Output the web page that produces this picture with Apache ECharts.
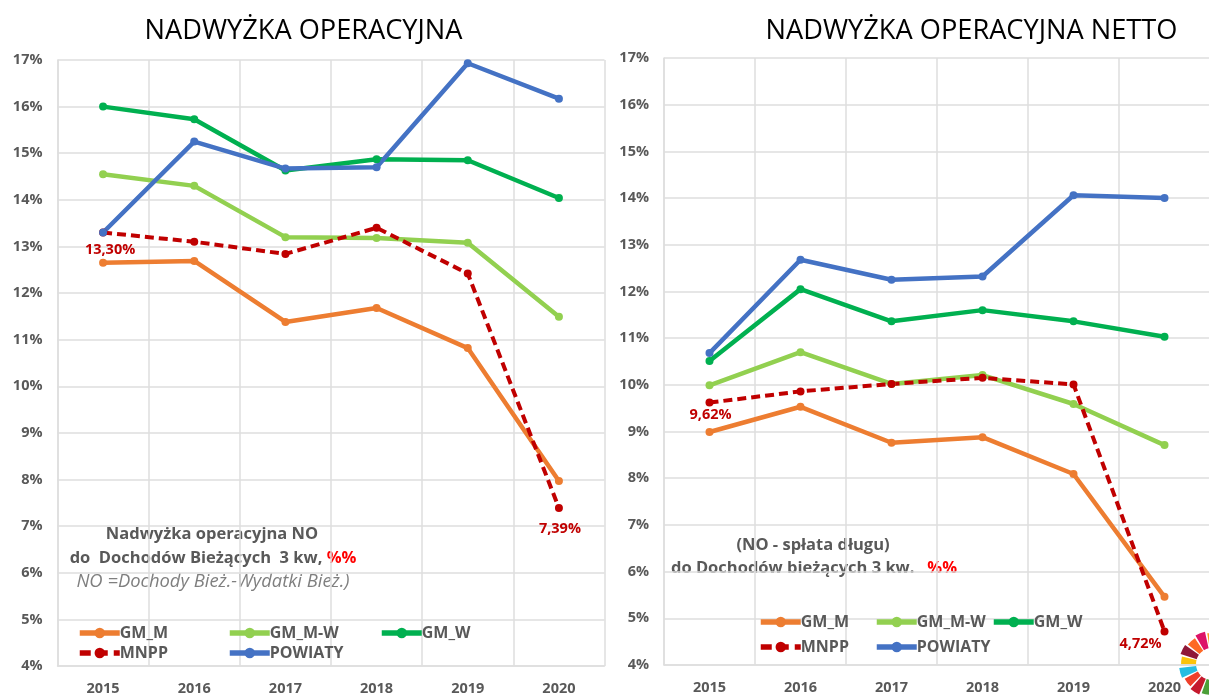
<!DOCTYPE html>
<html lang="pl">
<head>
<meta charset="utf-8">
<title>Nadwyżka operacyjna</title>
<script src="https://cdn.jsdelivr.net/npm/echarts@6/dist/echarts.min.js"></script>
<style>
    html, body { margin: 0; padding: 0; background: #fff; }
    #chart { width: 1209px; height: 695px; }
</style>
</head>
<body>
<div id="chart"></div>
<script>
const years = ['2015', '2016', '2017', '2018', '2019', '2020'];

// lewy wykres - nadwyżka operacyjna
const leftGmM = [12.65, 12.69, 11.38, 11.68, 10.82, 7.97];
const leftGmMW = [14.55, 14.30, 13.20, 13.18, 13.08, 11.49];
const leftGmW = [16.00, 15.73, 14.63, 14.87, 14.85, 14.04];
const leftMnpp = [13.30, 13.10, 12.84, 13.40, 12.42, 7.39];
const leftPowiaty = [13.30, 15.25, 14.67, 14.70, 16.93, 16.17];

// prawy wykres - nadwyżka operacyjna netto
const rightGmM = [8.99, 9.53, 8.76, 8.88, 8.09, 5.46];
const rightGmMW = [9.99, 10.70, 10.02, 10.21, 9.59, 8.71];
const rightGmW = [10.51, 12.05, 11.36, 11.60, 11.36, 11.03];
const rightMnpp = [9.62, 9.86, 10.02, 10.15, 10.01, 4.72];
const rightPowiaty = [10.68, 12.68, 12.25, 12.32, 14.06, 14.00];

const seriesNames = ['GM_M', 'GM_M-W', 'GM_W', 'MNPP', 'POWIATY'];
const seriesColors = ['#ed7d31', '#92d050', '#00b050', '#c00000', '#4472c4'];

// kolory płatków logo w prawym dolnym rogu
const wheelColors = ['#4c9f38', '#c5192d', '#ef402b', '#26bde2', '#fcc30b', '#8f1838', '#fd6925', '#dd1367', '#fd9d24'];

const fontName = '"Open Sans", "Noto Sans", sans-serif';
const grayText = '#595959';
const gridColor = '#dedede';

function pointLabels(values, labels) {
    // podpisy tylko przy wybranych punktach
    return values.map(function (value, index) {
        let item = { value: value };
        if (labels[index]) {
            item.label = {
                show: true,
                formatter: value.toFixed(2).replace('.', ',') + '%',
                position: 'bottom',
                offset: labels[index],
                color: '#c00000',
                fontFamily: fontName,
                fontWeight: 'bold',
                fontSize: 14.5
            };
        }
        return item;
    });
}

function lineSeries(index, gridIndex, data) {
    return {
        name: seriesNames[index],
        type: 'line',
        xAxisIndex: gridIndex,
        yAxisIndex: gridIndex,
        data: data,
        symbol: 'circle',
        symbolSize: 8,
        showSymbol: true,
        animation: false,
        itemStyle: { color: seriesColors[index] },
        lineStyle: {
            color: seriesColors[index],
            width: seriesNames[index] === 'MNPP' ? 4 : 4.5,
            type: seriesNames[index] === 'MNPP' ? [9, 5] : 'solid'
        }
    };
}

function xAxisFor(gridIndex) {
    return {
        type: 'category',
        gridIndex: gridIndex,
        data: years,
        boundaryGap: true,
        axisTick: { show: false },
        axisLine: { lineStyle: { color: gridColor, width: 1.5 } },
        axisLabel: {
            color: grayText,
            fontFamily: fontName,
            fontWeight: 'bold',
            fontSize: 14.5,
            margin: 15
        },
        splitLine: { show: true, lineStyle: { color: gridColor, width: 1.5 } }
    };
}

function yAxisFor(gridIndex) {
    return {
        type: 'value',
        gridIndex: gridIndex,
        min: 4,
        max: 17,
        interval: 1,
        axisTick: { show: false },
        axisLine: { show: true, lineStyle: { color: gridColor, width: 1.5 } },
        axisLabel: {
            color: grayText,
            fontFamily: fontName,
            fontWeight: 'bold',
            fontSize: 14.5,
            margin: 15,
            formatter: '{value}%'
        },
        splitLine: { show: true, lineStyle: { color: gridColor, width: 1.5 } }
    };
}

function legendItem(name, left, top) {
    return {
        data: [name],
        left: left,
        top: top,
        padding: 0,
        itemWidth: 40,
        itemHeight: 13,
        itemGap: 0,
        selectedMode: false,
        lineStyle: { width: 5.5, type: name === 'MNPP' ? [11, 6] : 'solid' },
        textStyle: {
            color: grayText,
            fontFamily: fontName,
            fontWeight: 'bold',
            fontSize: 16,
            padding: [0, 0, 0, -5]
        }
    };
}

function noteText(x, y, text, rich, extra) {
    return {
        type: 'text',
        x: x,
        y: y,
        style: Object.assign({
            text: text,
            align: 'center',
            verticalAlign: 'middle',
            fill: grayText,
            fontFamily: fontName,
            fontWeight: 'bold',
            fontSize: 16.5,
            rich: rich
        }, extra || {})
    };
}

function wheelSectors() {
    // fragment koła SDG przycięty przez krawędź strony
    return wheelColors.map(function (color, index) {
        let start = Math.PI * (0.5 + index * 2 / 17);
        return {
            type: 'sector',
            silent: true,
            shape: {
                cx: 1212,
                cy: 664,
                r0: 16,
                r: index % 2 ? 33 : 31,
                startAngle: start + 0.03,
                endAngle: start + Math.PI * 2 / 17 - 0.03
            },
            style: { fill: color }
        };
    });
}

const redRich = { red: { fill: '#ff0000', fontFamily: fontName, fontWeight: 'bold', fontSize: 16.5 } };

let option = {
    backgroundColor: '#fff',
    title: [
        {
            text: 'NADWYŻKA OPERACYJNA',
            left: 298.5,
            top: 13,
            textAlign: 'center',
            textStyle: { color: '#000', fontFamily: fontName, fontWeight: 'normal', fontSize: 27.2 }
        },
        {
            text: 'NADWYŻKA OPERACYJNA NETTO',
            left: 966.5,
            top: 13,
            textAlign: 'center',
            textStyle: { color: '#000', fontFamily: fontName, fontWeight: 'normal', fontSize: 27.2 }
        }
    ],
    grid: [
        { left: 57.5, top: 60, width: 547, height: 606, outerBoundsMode: 'none' },
        { left: 664, top: 58, width: 546, height: 607, outerBoundsMode: 'none' }
    ],
    xAxis: [xAxisFor(0), xAxisFor(1)],
    yAxis: [yAxisFor(0), yAxisFor(1)],
    legend: [
        legendItem('GM_M', 77, 625),
        legendItem('GM_M-W', 227, 625),
        legendItem('GM_W', 379, 625),
        legendItem('MNPP', 77, 645),
        legendItem('POWIATY', 227, 645),
        legendItem('GM_M', 758, 614),
        legendItem('GM_M-W', 874, 614),
        legendItem('GM_W', 991, 614),
        legendItem('MNPP', 758, 639),
        legendItem('POWIATY', 874, 639)
    ],
    series: [
        lineSeries(0, 0, leftGmM),
        lineSeries(1, 0, leftGmMW),
        lineSeries(2, 0, leftGmW),
        lineSeries(3, 0, pointLabels(leftMnpp, [[7, 1], null, null, null, null, [1, 4]])),
        lineSeries(4, 0, leftPowiaty),
        lineSeries(0, 1, rightGmM),
        lineSeries(1, 1, rightGmMW),
        lineSeries(2, 1, rightGmW),
        lineSeries(3, 1, pointLabels(rightMnpp, [[1, -4], null, null, null, null, [-24, -4]])),
        lineSeries(4, 1, rightPowiaty)
    ],
    graphic: {
        elements: [
            noteText(212, 534, 'Nadwyżka operacyjna NO', redRich),
            noteText(213, 558, 'do  Dochodów Bieżących  3 kw, {red|%%}', redRich),
            noteText(213, 582, 'NO =Dochody Bież.-Wydatki Bież.)', redRich, { fontWeight: 'normal', fontStyle: 'italic', fill: '#7f7f7f', fontSize: 18.4 }),
            noteText(813, 545, '(NO - spłata długu)', redRich),
            noteText(814, 568, 'do Dochodów bieżących 3 kw.   {red|%%}', redRich)
        ].concat(wheelSectors())
    }
};

let chart = echarts.init(document.getElementById('chart'));
chart.setOption(option);
</script>
</body>
</html>
